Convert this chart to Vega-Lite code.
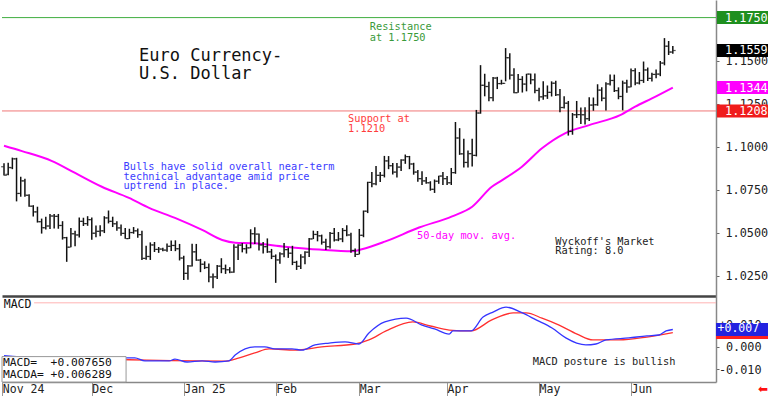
{
"$schema": "https://vega.github.io/schema/vega-lite/v6.json",
"padding": 0,
"background": "white",
"spacing": 0,
"config": {"view": {"stroke": null}, "font": "DejaVu Sans Mono", "axis": {"grid": false}},
"datasets": {
"px": [
{"i":0,"o":1.0884,"h":1.0905,"l":1.0833,"c":1.0834},
{"i":1,"o":1.0840,"h":1.0907,"l":1.0835,"c":1.0880},
{"i":2,"o":1.0878,"h":1.0937,"l":1.0870,"c":1.0930},
{"i":3,"o":1.0930,"h":1.0936,"l":1.0683,"c":1.0729},
{"i":4,"o":1.0729,"h":1.0826,"l":1.0710,"c":1.0802},
{"i":5,"o":1.0802,"h":1.0814,"l":1.0710,"c":1.0719},
{"i":6,"o":1.0718,"h":1.0725,"l":1.0652,"c":1.0655},
{"i":7,"o":1.0655,"h":1.0661,"l":1.0595,"c":1.0622},
{"i":8,"o":1.0622,"h":1.0652,"l":1.0560,"c":1.0565},
{"i":9,"o":1.0565,"h":1.0583,"l":1.0496,"c":1.0530},
{"i":10,"o":1.0530,"h":1.0594,"l":1.0520,"c":1.0540},
{"i":11,"o":1.0540,"h":1.0609,"l":1.0522,"c":1.0598},
{"i":12,"o":1.0598,"h":1.0610,"l":1.0525,"c":1.0596},
{"i":13,"o":1.0596,"h":1.0610,"l":1.0524,"c":1.0543},
{"i":14,"o":1.0543,"h":1.0568,"l":1.0461,"c":1.0472},
{"i":15,"o":1.0472,"h":1.0477,"l":1.0332,"c":1.0417},
{"i":16,"o":1.0417,"h":1.0528,"l":1.0417,"c":1.0495},
{"i":17,"o":1.0495,"h":1.0513,"l":1.0423,"c":1.0488},
{"i":18,"o":1.0488,"h":1.0589,"l":1.0473,"c":1.0567},
{"i":19,"o":1.0567,"h":1.0588,"l":1.0540,"c":1.0554},
{"i":20,"o":1.0554,"h":1.0597,"l":1.0541,"c":1.0577},
{"i":21,"o":1.0577,"h":1.0590,"l":1.0460,"c":1.0498},
{"i":22,"o":1.0498,"h":1.0543,"l":1.0474,"c":1.0509},
{"i":23,"o":1.0509,"h":1.0545,"l":1.0480,"c":1.0512},
{"i":24,"o":1.0512,"h":1.0597,"l":1.0499,"c":1.0587},
{"i":25,"o":1.0587,"h":1.0630,"l":1.0555,"c":1.0567},
{"i":26,"o":1.0567,"h":1.0594,"l":1.0534,"c":1.0553},
{"i":27,"o":1.0553,"h":1.0567,"l":1.0512,"c":1.0529},
{"i":28,"o":1.0529,"h":1.0549,"l":1.0483,"c":1.0497},
{"i":29,"o":1.0497,"h":1.0529,"l":1.0466,"c":1.0467},
{"i":30,"o":1.0467,"h":1.0524,"l":1.0465,"c":1.0502},
{"i":31,"o":1.0502,"h":1.0534,"l":1.0495,"c":1.0512},
{"i":32,"o":1.0512,"h":1.0525,"l":1.0472,"c":1.0490},
{"i":33,"o":1.0490,"h":1.0513,"l":1.0343,"c":1.0352},
{"i":34,"o":1.0352,"h":1.0425,"l":1.0344,"c":1.0363},
{"i":35,"o":1.0363,"h":1.0445,"l":1.0343,"c":1.0430},
{"i":36,"o":1.0430,"h":1.0447,"l":1.0389,"c":1.0404},
{"i":37,"o":1.0404,"h":1.0418,"l":1.0384,"c":1.0406},
{"i":38,"o":1.0406,"h":1.0414,"l":1.0393,"c":1.0400},
{"i":39,"o":1.0400,"h":1.0438,"l":1.0390,"c":1.0422},
{"i":40,"o":1.0422,"h":1.0456,"l":1.0395,"c":1.0427},
{"i":41,"o":1.0427,"h":1.0457,"l":1.0394,"c":1.0408},
{"i":42,"o":1.0408,"h":1.0436,"l":1.0340,"c":1.0354},
{"i":43,"o":1.0354,"h":1.0367,"l":1.0226,"c":1.0265},
{"i":44,"o":1.0265,"h":1.0313,"l":1.0228,"c":1.0308},
{"i":45,"o":1.0308,"h":1.0437,"l":1.0305,"c":1.0390},
{"i":46,"o":1.0390,"h":1.0436,"l":1.0338,"c":1.0342},
{"i":47,"o":1.0342,"h":1.0349,"l":1.0272,"c":1.0318},
{"i":48,"o":1.0318,"h":1.0335,"l":1.0290,"c":1.0299},
{"i":49,"o":1.0299,"h":1.0323,"l":1.0214,"c":1.0244},
{"i":50,"o":1.0244,"h":1.0264,"l":1.0178,"c":1.0245},
{"i":51,"o":1.0245,"h":1.0314,"l":1.0232,"c":1.0307},
{"i":52,"o":1.0307,"h":1.0353,"l":1.0266,"c":1.0292},
{"i":53,"o":1.0292,"h":1.0316,"l":1.0262,"c":1.0286},
{"i":54,"o":1.0286,"h":1.0301,"l":1.0266,"c":1.0272},
{"i":55,"o":1.0272,"h":1.0434,"l":1.0268,"c":1.0417},
{"i":56,"o":1.0417,"h":1.0434,"l":1.0342,"c":1.0429},
{"i":57,"o":1.0429,"h":1.0441,"l":1.0387,"c":1.0408},
{"i":58,"o":1.0408,"h":1.0434,"l":1.0380,"c":1.0413},
{"i":59,"o":1.0413,"h":1.0521,"l":1.0411,"c":1.0495},
{"i":60,"o":1.0495,"h":1.0533,"l":1.0435,"c":1.0493},
{"i":61,"o":1.0493,"h":1.0496,"l":1.0398,"c":1.0430},
{"i":62,"o":1.0430,"h":1.0447,"l":1.0381,"c":1.0420},
{"i":63,"o":1.0420,"h":1.0468,"l":1.0384,"c":1.0390},
{"i":64,"o":1.0390,"h":1.0407,"l":1.0348,"c":1.0364},
{"i":65,"o":1.0364,"h":1.0375,"l":1.0210,"c":1.0343},
{"i":66,"o":1.0343,"h":1.0387,"l":1.0321,"c":1.0378},
{"i":67,"o":1.0378,"h":1.0442,"l":1.0358,"c":1.0403},
{"i":68,"o":1.0403,"h":1.0414,"l":1.0355,"c":1.0382},
{"i":69,"o":1.0382,"h":1.0425,"l":1.0313,"c":1.0329},
{"i":70,"o":1.0329,"h":1.0338,"l":1.0285,"c":1.0306},
{"i":71,"o":1.0306,"h":1.0376,"l":1.0290,"c":1.0360},
{"i":72,"o":1.0360,"h":1.0393,"l":1.0318,"c":1.0388},
{"i":73,"o":1.0388,"h":1.0470,"l":1.0360,"c":1.0465},
{"i":74,"o":1.0465,"h":1.0513,"l":1.0464,"c":1.0491},
{"i":75,"o":1.0491,"h":1.0511,"l":1.0451,"c":1.0483},
{"i":76,"o":1.0483,"h":1.0490,"l":1.0432,"c":1.0446},
{"i":77,"o":1.0446,"h":1.0466,"l":1.0400,"c":1.0420},
{"i":78,"o":1.0420,"h":1.0505,"l":1.0410,"c":1.0497},
{"i":79,"o":1.0497,"h":1.0528,"l":1.0450,"c":1.0459},
{"i":80,"o":1.0459,"h":1.0505,"l":1.0452,"c":1.0465},
{"i":81,"o":1.0465,"h":1.0528,"l":1.0446,"c":1.0514},
{"i":82,"o":1.0514,"h":1.0545,"l":1.0480,"c":1.0488},
{"i":83,"o":1.0488,"h":1.0501,"l":1.0385,"c":1.0398},
{"i":84,"o":1.0398,"h":1.0410,"l":1.0360,"c":1.0375},
{"i":85,"o":1.0375,"h":1.0523,"l":1.0375,"c":1.0486},
{"i":86,"o":1.0486,"h":1.0630,"l":1.0475,"c":1.0626},
{"i":87,"o":1.0626,"h":1.0797,"l":1.0615,"c":1.0793},
{"i":88,"o":1.0793,"h":1.0854,"l":1.0765,"c":1.0785},
{"i":89,"o":1.0785,"h":1.0888,"l":1.0777,"c":1.0834},
{"i":90,"o":1.0834,"h":1.0853,"l":1.0795,"c":1.0834},
{"i":91,"o":1.0834,"h":1.0947,"l":1.0822,"c":1.0918},
{"i":92,"o":1.0918,"h":1.0946,"l":1.0870,"c":1.0890},
{"i":93,"o":1.0890,"h":1.0906,"l":1.0839,"c":1.0853},
{"i":94,"o":1.0853,"h":1.0906,"l":1.0822,"c":1.0882},
{"i":95,"o":1.0882,"h":1.0927,"l":1.0860,"c":1.0923},
{"i":96,"o":1.0923,"h":1.0955,"l":1.0901,"c":1.0943},
{"i":97,"o":1.0943,"h":1.0947,"l":1.0870,"c":1.0900},
{"i":98,"o":1.0900,"h":1.0907,"l":1.0838,"c":1.0853},
{"i":99,"o":1.0853,"h":1.0865,"l":1.0797,"c":1.0815},
{"i":100,"o":1.0815,"h":1.0858,"l":1.0778,"c":1.0802},
{"i":101,"o":1.0802,"h":1.0824,"l":1.0785,"c":1.0791},
{"i":102,"o":1.0791,"h":1.0800,"l":1.0745,"c":1.0753},
{"i":103,"o":1.0753,"h":1.0810,"l":1.0732,"c":1.0800},
{"i":104,"o":1.0800,"h":1.0832,"l":1.0785,"c":1.0830},
{"i":105,"o":1.0830,"h":1.0853,"l":1.0778,"c":1.0815},
{"i":106,"o":1.0815,"h":1.0831,"l":1.0778,"c":1.0791},
{"i":107,"o":1.0791,"h":1.0877,"l":1.0778,"c":1.0850},
{"i":108,"o":1.0850,"h":1.1144,"l":1.0843,"c":1.1051},
{"i":109,"o":1.1051,"h":1.1108,"l":1.0953,"c":1.0959},
{"i":110,"o":1.0959,"h":1.1047,"l":1.0880,"c":1.0909},
{"i":111,"o":1.0909,"h":1.0978,"l":1.0880,"c":1.0960},
{"i":112,"o":1.0960,"h":1.1046,"l":1.0886,"c":1.0950},
{"i":113,"o":1.0950,"h":1.1214,"l":1.0944,"c":1.1196},
{"i":114,"o":1.1196,"h":1.1474,"l":1.1192,"c":1.1357},
{"i":115,"o":1.1357,"h":1.1424,"l":1.1293,"c":1.1350},
{"i":116,"o":1.1350,"h":1.1377,"l":1.1265,"c":1.1285},
{"i":117,"o":1.1285,"h":1.1405,"l":1.1264,"c":1.1399},
{"i":118,"o":1.1399,"h":1.1406,"l":1.1335,"c":1.1367},
{"i":119,"o":1.1367,"h":1.1389,"l":1.1361,"c":1.1368},
{"i":120,"o":1.1368,"h":1.1573,"l":1.1380,"c":1.1517},
{"i":121,"o":1.1517,"h":1.1543,"l":1.1391,"c":1.1416},
{"i":122,"o":1.1416,"h":1.1456,"l":1.1311,"c":1.1314},
{"i":123,"o":1.1314,"h":1.1422,"l":1.1313,"c":1.1391},
{"i":124,"o":1.1391,"h":1.1410,"l":1.1315,"c":1.1364},
{"i":125,"o":1.1364,"h":1.1424,"l":1.1322,"c":1.1422},
{"i":126,"o":1.1422,"h":1.1425,"l":1.1363,"c":1.1389},
{"i":127,"o":1.1389,"h":1.1425,"l":1.1311,"c":1.1327},
{"i":128,"o":1.1327,"h":1.1343,"l":1.1265,"c":1.1290},
{"i":129,"o":1.1290,"h":1.1381,"l":1.1273,"c":1.1296},
{"i":130,"o":1.1296,"h":1.1356,"l":1.1278,"c":1.1316},
{"i":131,"o":1.1316,"h":1.1380,"l":1.1292,"c":1.1369},
{"i":132,"o":1.1369,"h":1.1384,"l":1.1295,"c":1.1302},
{"i":133,"o":1.1302,"h":1.1335,"l":1.1200,"c":1.1228},
{"i":134,"o":1.1228,"h":1.1293,"l":1.1222,"c":1.1253},
{"i":135,"o":1.1253,"h":1.1266,"l":1.1065,"c":1.1089},
{"i":136,"o":1.1089,"h":1.1196,"l":1.1070,"c":1.1186},
{"i":137,"o":1.1186,"h":1.1266,"l":1.1167,"c":1.1187},
{"i":138,"o":1.1187,"h":1.1228,"l":1.1132,"c":1.1186},
{"i":139,"o":1.1186,"h":1.1230,"l":1.1130,"c":1.1163},
{"i":140,"o":1.1163,"h":1.1287,"l":1.1150,"c":1.1242},
{"i":141,"o":1.1242,"h":1.1286,"l":1.1209,"c":1.1244},
{"i":142,"o":1.1244,"h":1.1363,"l":1.1238,"c":1.1329},
{"i":143,"o":1.1329,"h":1.1345,"l":1.1265,"c":1.1282},
{"i":144,"o":1.1282,"h":1.1375,"l":1.1210,"c":1.1365},
{"i":145,"o":1.1365,"h":1.1419,"l":1.1356,"c":1.1385},
{"i":146,"o":1.1385,"h":1.1419,"l":1.1318,"c":1.1326},
{"i":147,"o":1.1326,"h":1.1345,"l":1.1276,"c":1.1292},
{"i":148,"o":1.1292,"h":1.1384,"l":1.1212,"c":1.1370},
{"i":149,"o":1.1370,"h":1.1389,"l":1.1314,"c":1.1347},
{"i":150,"o":1.1347,"h":1.1455,"l":1.1345,"c":1.1442},
{"i":151,"o":1.1442,"h":1.1456,"l":1.1357,"c":1.1370},
{"i":152,"o":1.1370,"h":1.1434,"l":1.1362,"c":1.1385},
{"i":153,"o":1.1385,"h":1.1495,"l":1.1371,"c":1.1446},
{"i":154,"o":1.1446,"h":1.1460,"l":1.1382,"c":1.1397},
{"i":155,"o":1.1397,"h":1.1430,"l":1.1379,"c":1.1420},
{"i":156,"o":1.1420,"h":1.1448,"l":1.1398,"c":1.1422},
{"i":157,"o":1.1422,"h":1.1498,"l":1.1410,"c":1.1486},
{"i":158,"o":1.1486,"h":1.1631,"l":1.1473,"c":1.1584},
{"i":159,"o":1.1584,"h":1.1614,"l":1.1533,"c":1.1550},
{"i":160,"o":1.1550,"h":1.1585,"l":1.1540,"c":1.1559}
],
"ma": [
{"i":0,"p":1.1006},{"i":4.3,"p":1.0975},{"i":11.5,"p":1.0917},{"i":17,"p":1.0848},{"i":23.4,"p":1.0768},{"i":29.9,"p":1.0703},{"i":34.7,"p":1.0645},{"i":40.9,"p":1.0587},{"i":47.4,"p":1.0517},{"i":52.2,"p":1.0459},{"i":55.3,"p":1.0443},{"i":59.3,"p":1.0440},{"i":67.2,"p":1.0420},{"i":75.4,"p":1.0403},{"i":83.3,"p":1.0393},{"i":85.6,"p":1.0405},{"i":91.1,"p":1.0449},{"i":99.3,"p":1.0531},{"i":107.2,"p":1.0596},{"i":112,"p":1.0652},{"i":116.7,"p":1.0768},{"i":119.1,"p":1.0805},{"i":123.9,"p":1.0884},{"i":128.7,"p":1.0991},{"i":134.2,"p":1.1078},{"i":140,"p":1.1126},{"i":147.4,"p":1.1184},{"i":151,"p":1.1233},{"i":155,"p":1.1281},{"i":160,"p":1.1344}
],
"levels": [{"p":1.175,"k":"res"},{"p":1.1208,"k":"sup"}],
"title": [{"i":32.3,"p":1.1498,"t":"Euro Currency-"},{"i":32.3,"p":1.1394,"t":"U.S. Dollar"}],
"notes": [
{"i":87.5,"p":1.1678,"t":"Resistance","k":"res"},
{"i":87.5,"p":1.1617,"t":"at 1.1750","k":"res"},
{"i":82.3,"p":1.1141,"t":"Support at","k":"sup"},
{"i":82.3,"p":1.1083,"t":"1.1210","k":"sup"},
{"i":28.6,"p":1.0868,"t":"Bulls have solid overall near-term","k":"bull"},
{"i":28.6,"p":1.0810,"t":"technical advantage amid price","k":"bull"},
{"i":28.6,"p":1.0752,"t":"uptrend in place.","k":"bull"},
{"i":98.8,"p":1.0467,"t":"50-day mov. avg.","k":"ma"},
{"i":131.9,"p":1.0430,"t":"Wyckoff's Market","k":"wy"},
{"i":131.9,"p":1.0375,"t":"Rating: 8.0","k":"wy"}
],
"boxes": [{"p":1.175,"t":"1.1750","k":"res"},{"p":1.1559,"t":"1.1559","k":"last"},{"p":1.1344,"t":"1.1344","k":"ma"},{"p":1.1208,"t":"1.1208","k":"sup"}],
"macd": [
{"i":0,"v":-0.0040},{"i":5,"v":-0.0046},{"i":10,"v":-0.0052},{"i":15,"v":-0.0056},{"i":20,"v":-0.0058},{"i":25,"v":-0.0055},{"i":29.2,"v":-0.0050},{"i":31.3,"v":-0.0050},{"i":33.7,"v":-0.0063},{"i":39.5,"v":-0.0063},{"i":40.9,"v":-0.0055},{"i":43.8,"v":-0.0068},{"i":47.4,"v":-0.0063},{"i":50.5,"v":-0.0068},{"i":53.8,"v":-0.0063},{"i":55.3,"v":-0.0037},{"i":60,"v":-0.0001},{"i":62.4,"v":-0.0001},{"i":64.8,"v":-0.0010},{"i":68.9,"v":-0.0010},{"i":71.3,"v":-0.0015},{"i":74.4,"v":0.0008},{"i":77.8,"v":0.0016},{"i":81.6,"v":0.0021},{"i":84.9,"v":0.0012},{"i":87.3,"v":0.0061},{"i":91.1,"v":0.0110},{"i":96.2,"v":0.0127},{"i":100,"v":0.0096},{"i":103,"v":0.0079},{"i":106.5,"v":0.0056},{"i":107.4,"v":0.0070},{"i":111.7,"v":0.0070},{"i":114.6,"v":0.0132},{"i":117,"v":0.0154},{"i":120.1,"v":0.0176},{"i":124,"v":0.0150},{"i":127.3,"v":0.0119},{"i":131.1,"v":0.0083},{"i":134.4,"v":0.0039},{"i":137,"v":0.0016},{"i":139.2,"v":0.0008},{"i":141.6,"v":0.0012},{"i":144,"v":0.0030},{"i":149.5,"v":0.0039},{"i":153.8,"v":0.0048},{"i":156.7,"v":0.0052},{"i":158.4,"v":0.0070},{"i":160,"v":0.00765}
],
"sig": [
{"i":0,"v":-0.0046},{"i":10,"v":-0.0050},{"i":20,"v":-0.0055},{"i":30,"v":-0.0058},{"i":40,"v":-0.0062},{"i":53,"v":-0.0064},{"i":55.3,"v":-0.0055},{"i":60,"v":-0.0028},{"i":63.4,"v":-0.0010},{"i":69.6,"v":-0.0015},{"i":76,"v":-0.0001},{"i":84,"v":0.0012},{"i":87.3,"v":0.0030},{"i":91.4,"v":0.0070},{"i":97.8,"v":0.0110},{"i":102,"v":0.0092},{"i":106.5,"v":0.0074},{"i":111.7,"v":0.0070},{"i":116.7,"v":0.0119},{"i":121.8,"v":0.0150},{"i":124.9,"v":0.0150},{"i":128.7,"v":0.0127},{"i":132.8,"v":0.0096},{"i":137.1,"v":0.0056},{"i":140.9,"v":0.0030},{"i":147.1,"v":0.0030},{"i":153.8,"v":0.0043},{"i":160,"v":0.006289}
],
"mlevel": [{"v":0.0195}],
"mlegend": [{"i":-0.24,"v":-0.0087,"t":"MACD=\u00a0 +0.007650"},{"i":-0.24,"v":-0.0138,"t":"MACDA= +0.006289"}],
"mtitle": [{"i":-0.07,"v":0.0171,"t":"MACD"}],
"mnote": [{"i":126.5,"v":-0.0081,"t":"MACD posture is bullish"}],
"mbox": [{"v":0.006289,"t":"+0.006","k":"sig"},{"v":0.00765,"t":"+0.007","k":"macd"}],
"arrow": [{"t":"⬅"}]
},
"vconcat": [
{
"width": 714, "height": 296,
"resolve": {"scale": {"color": "independent"}},
"layer": [
{"data": {"name": "levels"}, "mark": {"type": "rule", "strokeWidth": 1},
 "encoding": {
  "y": {"field": "p", "type": "quantitative", "scale": {"domain": [1.01336, 1.18522], "nice": false, "zero": false}},
  "color": {"field": "k", "type": "nominal", "scale": {"domain": ["res","sup"], "range": ["#3fae3f","#f07878"]}, "legend": null}}},
{"data": {"name": "ma"}, "mark": {"type": "line", "color": "#ff00ff", "strokeWidth": 2, "interpolate": "monotone"},
 "encoding": {
  "x": {"field": "i", "type": "quantitative", "scale": {"domain": [-0.48, 170.33], "nice": false, "zero": false}},
  "y": {"field": "p", "type": "quantitative", "scale": {"domain": [1.01336, 1.18522], "nice": false, "zero": false}}}},
{"data": {"name": "px"}, "mark": {"type": "rule", "color": "#111111", "strokeWidth": 1.5},
 "encoding": {
  "x": {"field": "i", "type": "quantitative", "scale": {"domain": [-0.48, 170.33], "nice": false, "zero": false},
        "axis": {"orient": "bottom", "labels": false, "ticks": false, "title": null, "domainColor": "#444444", "domainWidth": 2.5}},
  "y": {"field": "l", "type": "quantitative", "scale": {"domain": [1.01336, 1.18522], "nice": false, "zero": false},
        "axis": {"orient": "right", "values": [1.025,1.05,1.075,1.1,1.125,1.15,1.175], "format": ".4f", "title": null,
                 "labelFont": "DejaVu Sans Mono", "labelFontSize": 11.8, "labelColor": "#222222", "labelPadding": 6,
                 "tickSize": 3, "tickColor": "#666666", "domainColor": "#888888", "domainWidth": 1.5,
                 "labelFlush": false, "labelOverlap": false}},
  "y2": {"field": "h"}}},
{"data": {"name": "px"}, "mark": {"type": "tick", "orient": "horizontal", "color": "#111111", "size": 2.5, "thickness": 1.2, "xOffset": -1.6},
 "encoding": {
  "x": {"field": "i", "type": "quantitative", "scale": {"domain": [-0.48, 170.33], "nice": false, "zero": false}},
  "y": {"field": "o", "type": "quantitative", "scale": {"domain": [1.01336, 1.18522], "nice": false, "zero": false}}}},
{"data": {"name": "px"}, "mark": {"type": "tick", "orient": "horizontal", "color": "#111111", "size": 2.5, "thickness": 1.2, "xOffset": 1.6},
 "encoding": {
  "x": {"field": "i", "type": "quantitative", "scale": {"domain": [-0.48, 170.33], "nice": false, "zero": false}},
  "y": {"field": "c", "type": "quantitative", "scale": {"domain": [1.01336, 1.18522], "nice": false, "zero": false}}}},
{"data": {"name": "title"}, "mark": {"type": "text", "align": "left", "baseline": "alphabetic", "font": "DejaVu Sans Mono", "fontSize": 17, "color": "#111111"},
 "encoding": {
  "x": {"field": "i", "type": "quantitative", "scale": {"domain": [-0.48, 170.33], "nice": false, "zero": false}},
  "y": {"field": "p", "type": "quantitative", "scale": {"domain": [1.01336, 1.18522], "nice": false, "zero": false}},
  "text": {"field": "t"}}},
{"data": {"name": "notes"}, "mark": {"type": "text", "align": "left", "baseline": "alphabetic", "font": "DejaVu Sans Mono", "fontSize": 10.3},
 "encoding": {
  "x": {"field": "i", "type": "quantitative", "scale": {"domain": [-0.48, 170.33], "nice": false, "zero": false}},
  "y": {"field": "p", "type": "quantitative", "scale": {"domain": [1.01336, 1.18522], "nice": false, "zero": false}},
  "color": {"field": "k", "type": "nominal", "scale": {"domain": ["res","sup","bull","ma","wy"], "range": ["#3a9a3a","#ff3c3c","#3c3cff","#ff00ff","#222222"]}, "legend": null},
  "text": {"field": "t"}}},
{"data": {"name": "boxes"}, "mark": {"type": "tick", "orient": "horizontal", "size": 53, "thickness": 13, "opacity": 1},
 "encoding": {
  "x": {"datum": 176.9, "type": "quantitative", "scale": {"domain": [-0.48, 170.33], "nice": false, "zero": false}},
  "y": {"field": "p", "type": "quantitative", "scale": {"domain": [1.01336, 1.18522], "nice": false, "zero": false}},
  "color": {"field": "k", "type": "nominal", "scale": {"domain": ["res","last","ma","sup"], "range": ["#1f8f1f","#000000","#ff00ff","#f01c1c"]}, "legend": null}}},
{"data": {"name": "boxes"}, "mark": {"type": "text", "align": "left", "baseline": "middle", "font": "DejaVu Sans Mono", "fontSize": 11.8, "color": "white"},
 "encoding": {
  "x": {"datum": 172.5, "type": "quantitative", "scale": {"domain": [-0.48, 170.33], "nice": false, "zero": false}},
  "y": {"field": "p", "type": "quantitative", "scale": {"domain": [1.01336, 1.18522], "nice": false, "zero": false}},
  "text": {"field": "t"}}}
]
},
{
"width": 714, "height": 86,
"resolve": {"scale": {"color": "independent"}},
"layer": [
{"data": {"name": "mlevel"}, "mark": {"type": "rule", "color": "#ffb4b4", "strokeWidth": 1},
 "encoding": {
  "x": {"datum": 7.2, "type": "quantitative", "scale": {"domain": [-0.48, 170.33], "nice": false, "zero": false}},
  "x2": {"datum": 170.33},
  "y": {"field": "v", "type": "quantitative", "scale": {"domain": [-0.01569, 0.02253], "nice": false, "zero": false}}}},
{"data": {"name": "sig"}, "mark": {"type": "line", "color": "#ff3030", "strokeWidth": 1.3, "interpolate": "monotone"},
 "encoding": {
  "x": {"field": "i", "type": "quantitative", "scale": {"domain": [-0.48, 170.33], "nice": false, "zero": false},
        "axis": {"orient": "bottom", "values": [-0.4,21,43,65,85,106,128,150],
                 "labelExpr": "datum.value < 10 ? 'Nov 24' : datum.value < 30 ? 'Dec' : datum.value < 50 ? 'Jan 25' : datum.value < 70 ? 'Feb' : datum.value < 90 ? 'Mar' : datum.value < 110 ? 'Apr' : datum.value < 140 ? 'May' : 'Jun'",
                 "title": null, "tickSize": 14, "tickColor": "#999999", "tickWidth": 1, "domainColor": "#888888", "domainWidth": 1.5,
                 "labelAlign": "left", "labelBaseline": "alphabetic", "labelPadding": -3.5, "labelDx": 2,
                 "labelFont": "DejaVu Sans Mono", "labelFontSize": 11.5, "labelColor": "#222222",
                 "labelFlush": false, "labelOverlap": false, "labelBound": false}},
  "y": {"field": "v", "type": "quantitative", "scale": {"domain": [-0.01569, 0.02253], "nice": false, "zero": false},
        "axis": {"orient": "right", "values": [-0.01, 0, 0.01],
                 "labelExpr": "datum.value > 0.001 ? '+0.010' : datum.value < -0.001 ? '-0.010' : '0.000'",
                 "title": null, "labelAlign": "right", "labelPadding": 42, "tickSize": 3, "tickColor": "#666666",
                 "domainColor": "#888888", "domainWidth": 1.5, "labelFont": "DejaVu Sans Mono", "labelFontSize": 11.8,
                 "labelColor": "#222222", "labelFlush": false, "labelOverlap": false}}}},
{"data": {"name": "macd"}, "mark": {"type": "line", "color": "#3535ff", "strokeWidth": 1.3, "interpolate": "monotone"},
 "encoding": {
  "x": {"field": "i", "type": "quantitative", "scale": {"domain": [-0.48, 170.33], "nice": false, "zero": false}},
  "y": {"field": "v", "type": "quantitative", "scale": {"domain": [-0.01569, 0.02253], "nice": false, "zero": false}}}},
{"data": {"values": [{}]}, "mark": {"type": "rect", "fill": "white", "stroke": "#999999", "strokeWidth": 1},
 "encoding": {
  "x": {"datum": -0.48, "type": "quantitative", "scale": {"domain": [-0.48, 170.33], "nice": false, "zero": false}},
  "x2": {"datum": 29.2},
  "y": {"datum": -0.0044, "type": "quantitative", "scale": {"domain": [-0.01569, 0.02253], "nice": false, "zero": false}},
  "y2": {"datum": -0.01569}}},
{"data": {"name": "mlegend"}, "mark": {"type": "text", "align": "left", "baseline": "alphabetic", "font": "DejaVu Sans Mono", "fontSize": 11.3, "color": "#111111"},
 "encoding": {
  "x": {"field": "i", "type": "quantitative", "scale": {"domain": [-0.48, 170.33], "nice": false, "zero": false}},
  "y": {"field": "v", "type": "quantitative", "scale": {"domain": [-0.01569, 0.02253], "nice": false, "zero": false}},
  "text": {"field": "t"}}},
{"data": {"name": "mtitle"}, "mark": {"type": "text", "align": "left", "baseline": "alphabetic", "font": "DejaVu Sans Mono", "fontSize": 11.5, "color": "#111111"},
 "encoding": {
  "x": {"field": "i", "type": "quantitative", "scale": {"domain": [-0.48, 170.33], "nice": false, "zero": false}},
  "y": {"field": "v", "type": "quantitative", "scale": {"domain": [-0.01569, 0.02253], "nice": false, "zero": false}},
  "text": {"field": "t"}}},
{"data": {"name": "mnote"}, "mark": {"type": "text", "align": "left", "baseline": "alphabetic", "font": "DejaVu Sans Mono", "fontSize": 10.3, "color": "#222222"},
 "encoding": {
  "x": {"field": "i", "type": "quantitative", "scale": {"domain": [-0.48, 170.33], "nice": false, "zero": false}},
  "y": {"field": "v", "type": "quantitative", "scale": {"domain": [-0.01569, 0.02253], "nice": false, "zero": false}},
  "text": {"field": "t"}}},
{"data": {"name": "mbox"}, "mark": {"type": "tick", "orient": "horizontal", "size": 54, "thickness": 13, "opacity": 1},
 "encoding": {
  "x": {"datum": 176.8, "type": "quantitative", "scale": {"domain": [-0.48, 170.33], "nice": false, "zero": false}},
  "y": {"field": "v", "type": "quantitative", "scale": {"domain": [-0.01569, 0.02253], "nice": false, "zero": false}},
  "color": {"field": "k", "type": "nominal", "scale": {"domain": ["sig","macd"], "range": ["#ff2020","#2323e0"]}, "legend": null}}},
{"data": {"name": "mbox"}, "transform": [{"filter": "datum.k == 'macd'"}], "mark": {"type": "text", "align": "left", "baseline": "middle", "font": "DejaVu Sans Mono", "fontSize": 11.5, "color": "white"},
 "encoding": {
  "x": {"datum": 170.7, "type": "quantitative", "scale": {"domain": [-0.48, 170.33], "nice": false, "zero": false}},
  "y": {"field": "v", "type": "quantitative", "scale": {"domain": [-0.01569, 0.02253], "nice": false, "zero": false}},
  "text": {"field": "t"}}},
{"data": {"name": "arrow"}, "mark": {"type": "text", "align": "center", "baseline": "middle", "font": "DejaVu Sans", "fontSize": 12, "color": "#ff1010"},
 "encoding": {
  "x": {"datum": 181.6, "type": "quantitative", "scale": {"domain": [-0.48, 170.33], "nice": false, "zero": false}},
  "y": {"datum": -0.0188, "type": "quantitative", "scale": {"domain": [-0.01569, 0.02253], "nice": false, "zero": false}},
  "text": {"field": "t"}}}
]
}
]
}
